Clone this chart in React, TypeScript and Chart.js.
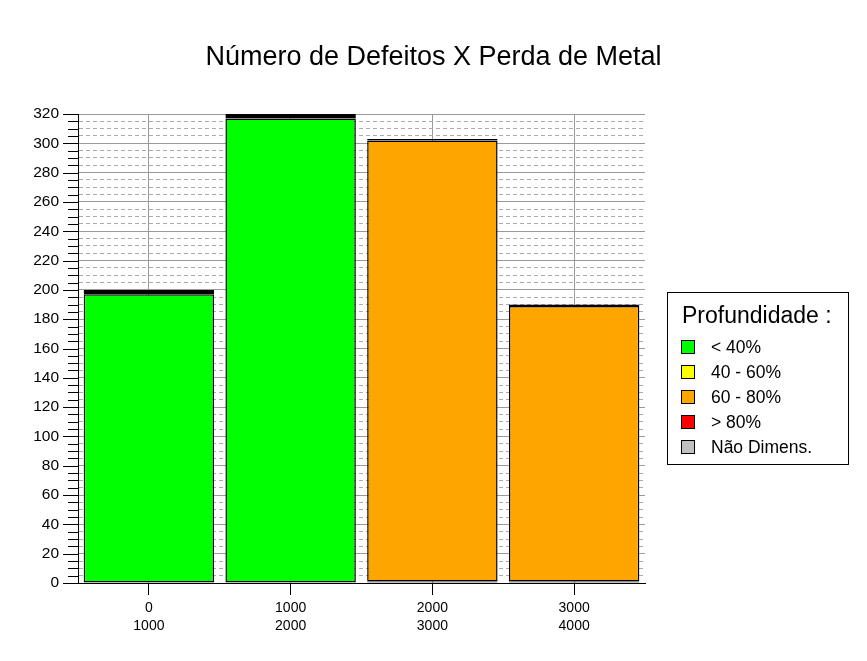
import React, { useEffect, useRef } from "react";
import { Chart, registerables } from "chart.js";

Chart.register(...registerables);

// ---- data ----
const title = "Número de Defeitos X Perda de Metal";
const rangeStart = ["0", "1000", "2000", "3000"];
const rangeEnd = ["1000", "2000", "3000", "4000"];
const seriesNames = ["< 40%", "40 - 60%", "60 - 80%", "> 80%", "Não Dimens."];
const seriesColors = ["#00FF00", "#FFFF00", "#FFA500", "#FF0000", "#C0C0C0"];
const below40 = [197, 317, 1, 1];
const from40to60 = [3, 3, 0, 0];
const from60to80 = [0, 0, 301, 188];
const above80 = [0, 0, 1, 1];
const notSized = [0, 0, 0, 0];
const legendTitle = "Profundidade :";
const yMax = 320;
const yMajorStep = 20;
const yMinorStep = 5;

const FONT = '"Liberation Sans", Arial, Helvetica, sans-serif';

export default function App() {
  const ref = useRef<HTMLCanvasElement | null>(null);

  useEffect(() => {
    const canvas = ref.current;
    if (!canvas) return;
    Chart.defaults.font.family = FONT;

    const seriesData = [below40, from40to60, from60to80, above80, notSized];
    const borderW = [1.5, 3, 1.5, 3, 3];

    const bgPlugin = {
      id: "bg",
      beforeDraw(chart: any) {
        const c = chart.ctx;
        c.save();
        c.fillStyle = "#fff";
        c.fillRect(0, 0, chart.width, chart.height);
        c.restore();
      },
    };

    const titlePlugin = {
      id: "pageTitle",
      afterDraw(chart: any) {
        const c = chart.ctx;
        c.save();
        c.fillStyle = "#000";
        c.font = `27px ${FONT}`;
        c.textAlign = "center";
        c.textBaseline = "alphabetic";
        c.fillText(title, chart.width / 2, 65);
        c.restore();
      },
    };

    const yTicksPlugin = {
      id: "yTickMarks",
      afterDraw(chart: any) {
        const c = chart.ctx;
        const y = chart.scales.y;
        const x0 = chart.chartArea.left;
        c.save();
        c.strokeStyle = "#000";
        c.lineWidth = 1;
        for (const t of y.ticks) {
          const py = Math.round(y.getPixelForValue(t.value)) + 0.5;
          const major = t.value % yMajorStep === 0;
          c.beginPath();
          c.moveTo(x0 - (major ? 15 : 10), py);
          c.lineTo(x0, py);
          c.stroke();
        }
        c.restore();
      },
    };

    const legendPlugin = {
      id: "boxLegend",
      afterDraw(chart: any) {
        const c = chart.ctx;
        const left = chart.chartArea.right + 22;
        const top = 292;
        c.save();
        c.strokeStyle = "#000";
        c.lineWidth = 1;
        c.strokeRect(left + 0.5, top + 0.5, 181, 172);
        c.fillStyle = "#000";
        c.textBaseline = "alphabetic";
        c.textAlign = "left";
        c.font = `23px ${FONT}`;
        c.fillText(legendTitle, left + 15, top + 31);
        c.font = `17.5px ${FONT}`;
        seriesNames.forEach((name, i) => {
          const sy = top + 48 + i * 25;
          c.fillStyle = seriesColors[i];
          c.fillRect(left + 14, sy, 14, 14);
          c.strokeStyle = "#000";
          c.strokeRect(left + 14.5, sy + 0.5, 13, 13);
          c.fillStyle = "#000";
          c.fillText(name, left + 44, sy + 13);
        });
        c.restore();
      },
    };

    const chart = new Chart(canvas, {
      type: "bar",
      data: {
        labels: rangeStart.map((s, i) => [s, rangeEnd[i]]),
        datasets: seriesNames.map((name, i) => ({
          label: name,
          data: seriesData[i],
          backgroundColor: seriesColors[i],
          borderColor: "#000",
          borderWidth: borderW[i],
          borderSkipped: false,
          barPercentage: 0.92,
          categoryPercentage: 1,
        })),
      },
      options: {
        responsive: false,
        animation: false,
        layout: { padding: { left: 0, right: 222, top: 114, bottom: 0 } },
        plugins: {
          legend: { display: false },
          tooltip: { enabled: false },
          title: { display: false },
        },
        scales: {
          x: {
            stacked: true,
            afterFit: (s: any) => {
              s.height = 78;
            },
            grid: {
              offset: false,
              color: "#9a9a9a",
              lineWidth: 1,
              tickColor: "#000",
              tickLength: 12,
            },
            border: { display: true, color: "#000", width: 1 },
            ticks: {
              color: "#000",
              font: { size: 14, family: FONT, lineHeight: 1.3 },
              padding: 4,
              maxRotation: 0,
            },
          },
          y: {
            stacked: true,
            min: 0,
            max: yMax,
            afterFit: (s: any) => {
              s.width = 78;
            },
            grid: {
              drawTicks: false,
              color: (ctx: any) =>
                ctx.tick && ctx.tick.value % yMajorStep === 0 ? "#9a9a9a" : "#ababab",
              lineWidth: 1,
            },
            border: {
              display: true,
              color: "#000",
              width: 1,
              dash: (ctx: any) =>
                ctx.tick && ctx.tick.value % yMajorStep !== 0 ? [4, 3] : [],
            },
            ticks: {
              stepSize: yMinorStep,
              autoSkip: false,
              color: "#000",
              padding: 19,
              font: { size: 15.5, family: FONT },
              callback: (v: any) => (Number(v) % yMajorStep === 0 ? String(v) : ""),
            },
          },
        },
      },
      plugins: [bgPlugin, yTicksPlugin, legendPlugin, titlePlugin],
    });
    return () => chart.destroy();
  }, []);

  return (
    <div style={{ position: "absolute", left: 0, top: 0, width: 867, height: 661 }}>
      <canvas ref={ref} width={867} height={661} />
    </div>
  );
}
